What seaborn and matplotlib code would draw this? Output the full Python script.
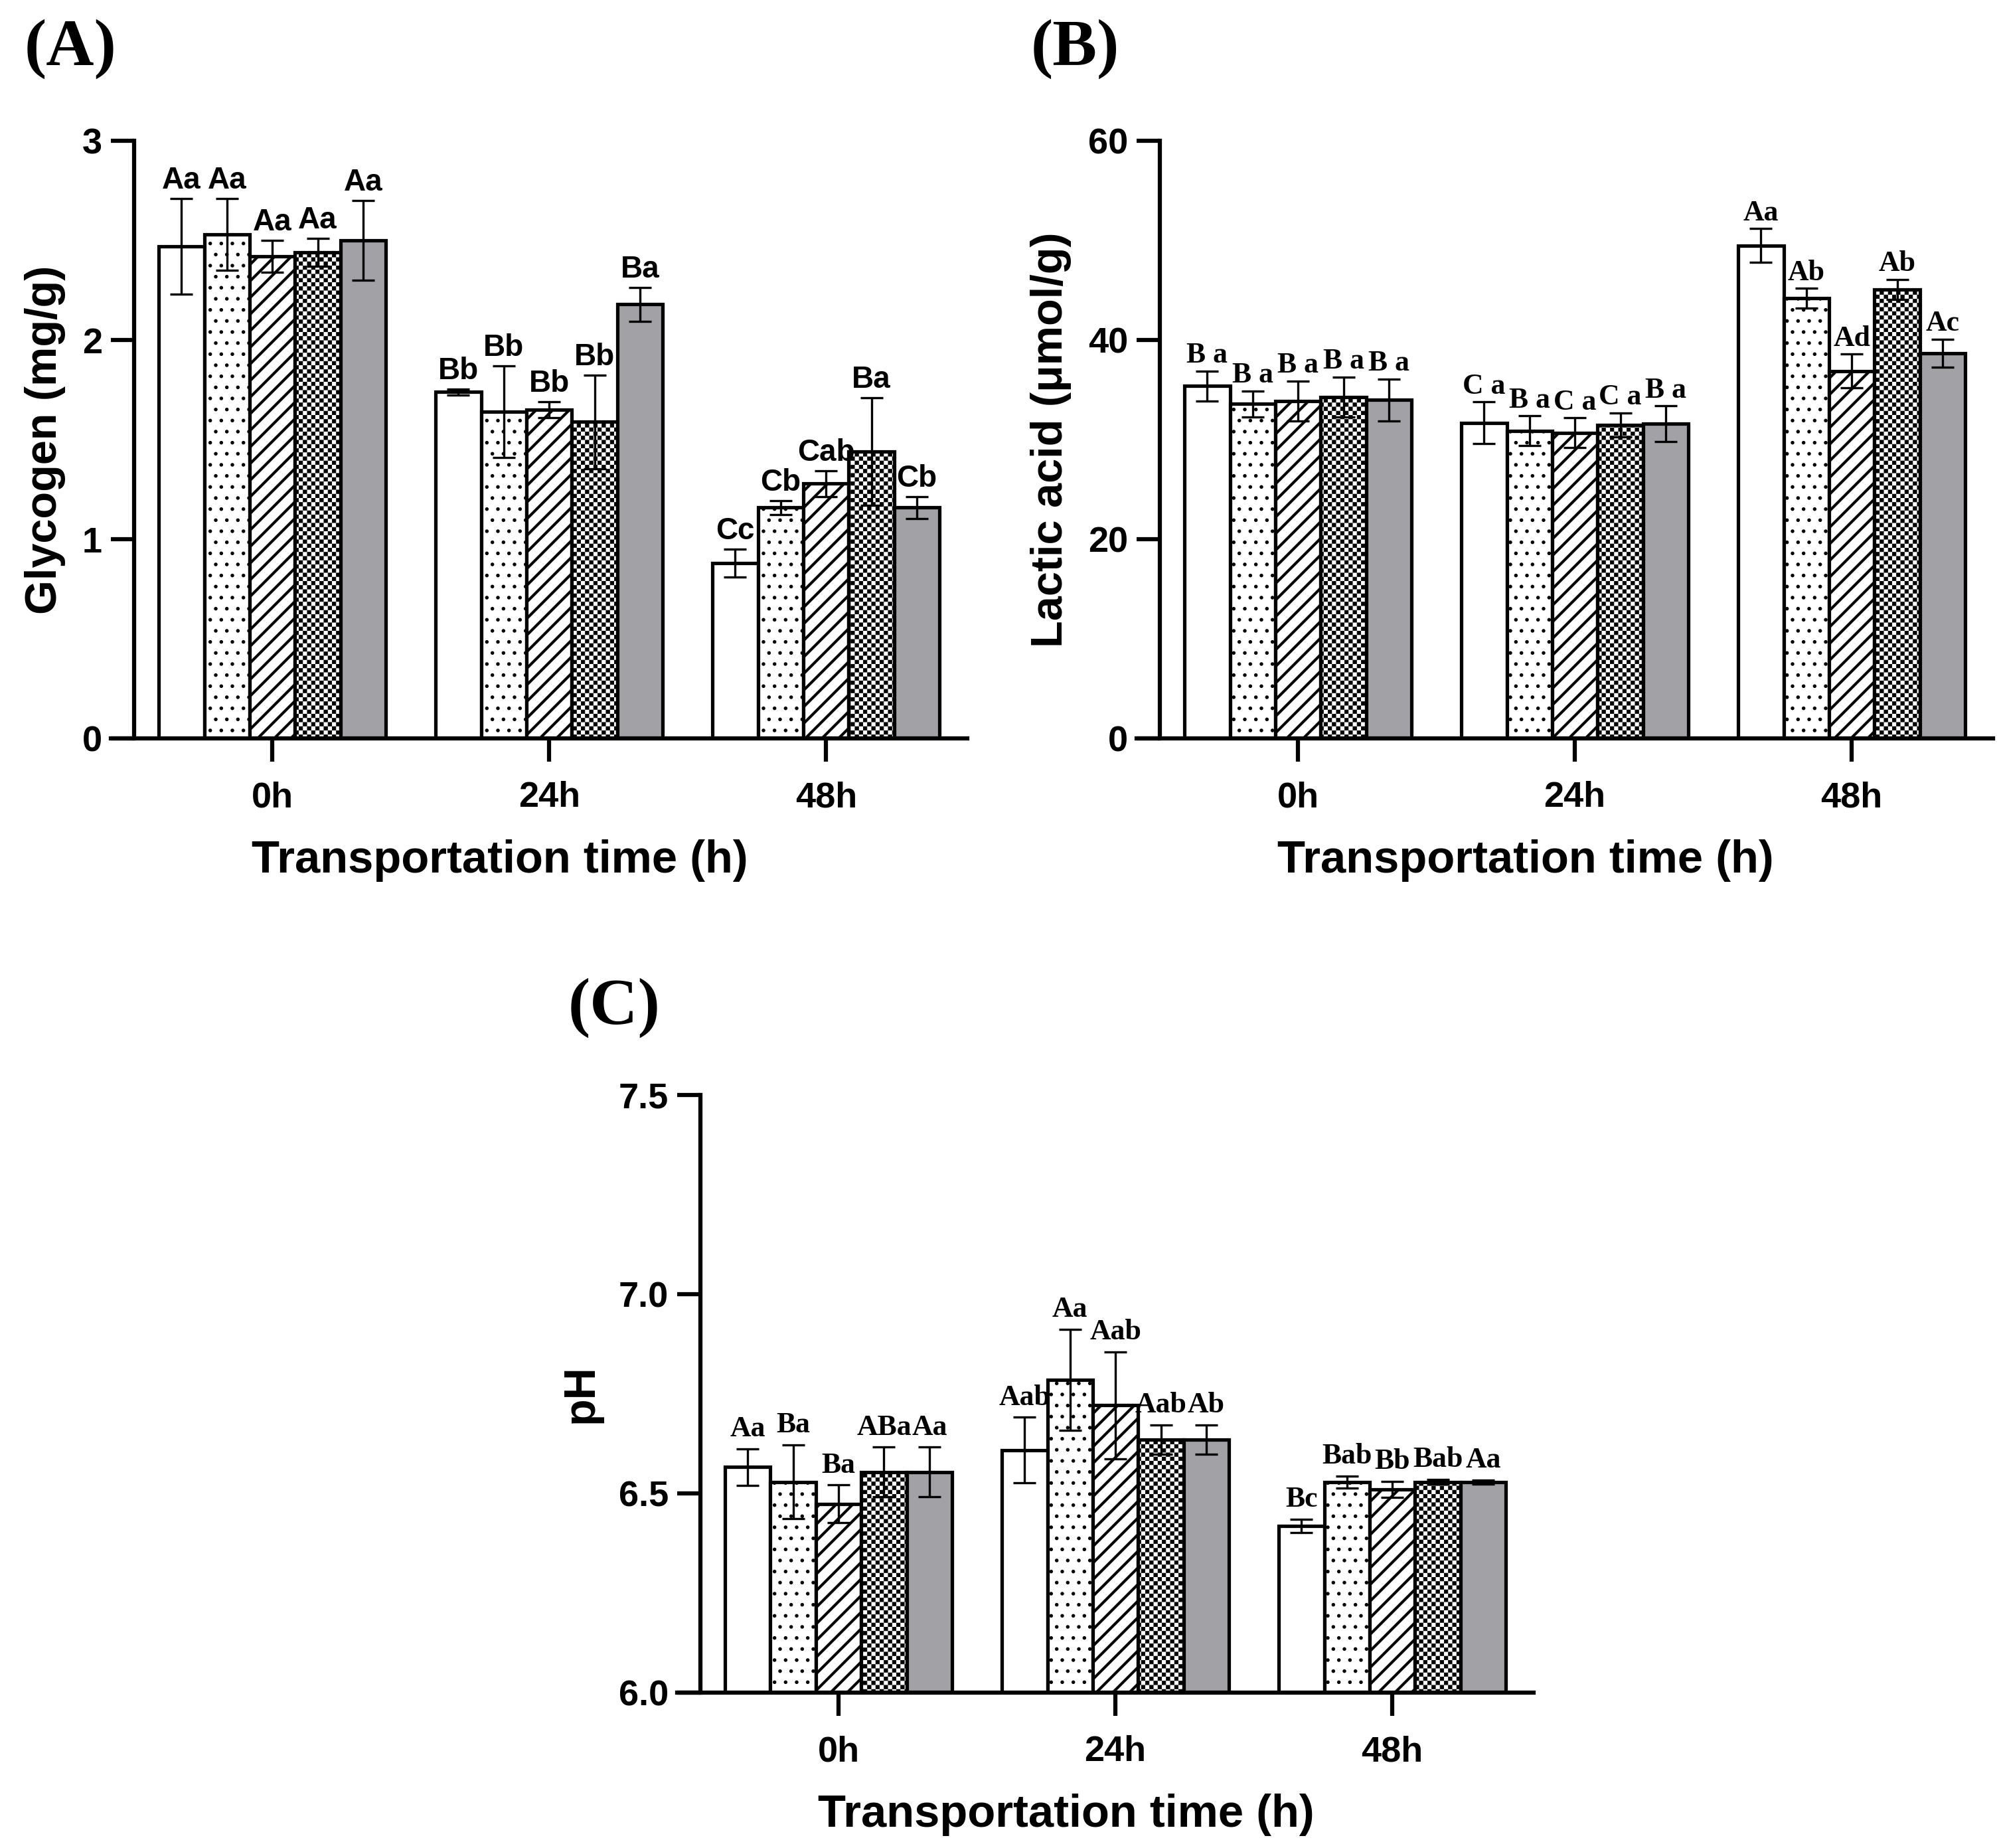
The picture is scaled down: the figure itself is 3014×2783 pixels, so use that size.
import numpy as np
import pandas as pd
import matplotlib
matplotlib.use('Agg')
import matplotlib.pyplot as plt
import matplotlib.hatch as mhatch
import matplotlib.patches as mpatches
from matplotlib.path import Path
import seaborn as sns

times = ['0h', '24h', '48h']
groups = ['T1', 'T2', 'T3', 'T4', 'T5']

# rows = transportation time, columns = treatment group
glycogen_mean = [[2.47, 2.53, 2.42, 2.44, 2.50],
                 [1.74, 1.64, 1.65, 1.59, 2.18],
                 [0.88, 1.16, 1.28, 1.44, 1.16]]
glycogen_sd = [[0.24, 0.18, 0.08, 0.07, 0.20],
               [0.015, 0.23, 0.04, 0.235, 0.085],
               [0.07, 0.035, 0.065, 0.27, 0.055]]
glycogen_letters = [['Aa', 'Aa', 'Aa', 'Aa', 'Aa'],
                    ['Bb', 'Bb', 'Bb', 'Bb', 'Ba'],
                    ['Cc', 'Cb', 'Cab', 'Ba', 'Cb']]

lactic_mean = [[35.4, 33.6, 33.9, 34.3, 34.0],
               [31.7, 30.9, 30.7, 31.5, 31.6],
               [49.5, 44.2, 36.9, 45.1, 38.7]]
lactic_sd = [[1.5, 1.3, 2.0, 2.0, 2.1],
             [2.1, 1.5, 1.5, 1.2, 1.8],
             [1.7, 1.0, 1.7, 1.0, 1.4]]
lactic_letters = [['B a', 'B a', 'B a', 'B a', 'B a'],
                  ['C a', 'B a', 'C a', 'C a', 'B a'],
                  ['Aa', 'Ab', 'Ad', 'Ab', 'Ac']]

ph_mean = [[6.566, 6.529, 6.474, 6.554, 6.554],
           [6.609, 6.785, 6.721, 6.635, 6.635],
           [6.418, 6.529, 6.510, 6.529, 6.529]]
ph_sd = [[0.046, 0.093, 0.047, 0.062, 0.062],
         [0.082, 0.127, 0.134, 0.037, 0.037],
         [0.017, 0.015, 0.020, 0.006, 0.005]]
ph_letters = [['Aa', 'Ba', 'Ba', 'ABa', 'Aa'],
              ['Aab', 'Aa', 'Aab', 'Aab', 'Ab'],
              ['Bc', 'Bab', 'Bb', 'Bab', 'Aa']]

fill_colors = ['white', 'white', 'white', 'white', '#a2a1a6']
hatches = ['', '...', '////', 'OOOO', '']
hatch_lws = [0.5, 0.5, 1.0, 0.2, 0.5]

sns.set_style('ticks')
plt.rcParams['font.family'] = ['Liberation Sans', 'DejaVu Sans']
plt.rcParams['font.weight'] = 'bold'
plt.rcParams['axes.labelweight'] = 'bold'
plt.rcParams['text.color'] = 'black'
plt.rcParams['axes.labelcolor'] = 'black'
plt.rcParams['xtick.color'] = 'black'
plt.rcParams['ytick.color'] = 'black'
plt.rcParams['hatch.linewidth'] = 0.9

per_artist_lw = hasattr(mpatches.Patch, 'set_hatch_linewidth')
check_lw = hatch_lws[3] if per_artist_lw else plt.rcParams['hatch.linewidth']


# checkerboard fill for the 4th group ('O' is re-used as its hatch code)
class CheckerHatch(mhatch.HatchPatternBase):
    def __init__(self, hatch, density):
        self.num_cells = hatch.count('O') * density
        self.num_vertices = 10 * self.num_cells ** 2

    def set_vertices_and_codes(self, vertices, codes):
        n = 2 * self.num_cells
        side = 1.0 / n
        inset = check_lw / 72 / 2
        k = 0
        for i in range(n):
            for j in range(n):
                if (i + j) % 2:
                    continue
                x0, y0 = i * side + inset, j * side + inset
                x1, y1 = (i + 1) * side - inset, (j + 1) * side - inset
                vertices[k:k + 5] = [(x0, y0), (x1, y0), (x1, y1), (x0, y1), (x0, y0)]
                codes[k:k + 5] = [Path.MOVETO, Path.LINETO, Path.LINETO,
                                  Path.LINETO, Path.CLOSEPOLY]
                k += 5


mhatch._hatch_types[:] = [h for h in mhatch._hatch_types
                          if h is not mhatch.LargeCircles] + [CheckerHatch]


def draw_panel(ax, mean, sd, letters, ylim, yticks, ylabel,
               letter_family, letter_size, letter_pad):
    df = pd.DataFrame({
        'time': np.repeat(times, len(groups)),
        'group': groups * len(times),
        'value': np.ravel(mean),
    })
    sns.barplot(data=df, x='time', y='value', hue='group', order=times,
                hue_order=groups, palette=fill_colors, saturation=1,
                errorbar=None, width=0.82, gap=0, edgecolor='black',
                linewidth=1.25, legend=False, ax=ax)

    bar_conts = list(ax.containers)
    for i, cont in enumerate(bar_conts):
        for bar in cont:
            bar.set_hatch(hatches[i])
            if per_artist_lw:
                bar.set_hatch_linewidth(hatch_lws[i])
            x = bar.get_x() + bar.get_width() / 2
            j = int(round(x))
            m, s = mean[j][i], sd[j][i]
            ax.errorbar(x, m, yerr=s, fmt='none', ecolor='black',
                        elinewidth=0.8, capsize=4, capthick=0.8, zorder=3)
            ax.annotate(letters[j][i], (x, m + s), xytext=(0, letter_pad),
                        textcoords='offset points', ha='center', va='baseline',
                        fontsize=letter_size, fontweight='bold',
                        family=letter_family, color='black')

    ax.set_xlim(-0.583, 2.51)
    ax.set_ylim(*ylim)
    ax.set_yticks(yticks)
    ax.spines['top'].set_visible(False)
    ax.spines['right'].set_visible(False)
    ax.spines['left'].set_position(('data', -0.5))
    for side in ['left', 'bottom']:
        ax.spines[side].set_linewidth(1.5)
        ax.spines[side].set_color('black')
    ax.tick_params(axis='both', direction='out', length=8.4, width=1.5,
                   labelsize=13, colors='black')
    ax.tick_params(axis='y', pad=3)
    ax.tick_params(axis='x', pad=7)
    ax.set_xlabel('Transportation time (h)', fontsize=16.5, labelpad=9)
    ax.xaxis.label.set_x(0.454)
    ax.set_ylabel(ylabel, fontsize=16, labelpad=6)


fig = plt.figure(figsize=(3014 / 300, 2783 / 300), dpi=300)

ax_a = fig.add_axes([0.0554, 0.6004, 0.4280, 0.3234])
ax_b = fig.add_axes([0.5680, 0.6004, 0.4280, 0.3234])
ax_c = fig.add_axes([0.3384, 0.0841, 0.4280, 0.3234])

draw_panel(ax_a, glycogen_mean, glycogen_sd, glycogen_letters,
           (0, 3), [0, 1, 2, 3], 'Glycogen (mg/g)',
           ['Liberation Sans', 'DejaVu Sans'], 11, 3.5)
draw_panel(ax_b, lactic_mean, lactic_sd, lactic_letters,
           (0, 60), [0, 20, 40, 60], 'Lactic acid (μmol/g)',
           ['Liberation Serif', 'DejaVu Serif'], 10.5, 3)
draw_panel(ax_c, ph_mean, ph_sd, ph_letters,
           (6.0, 7.5), [6.0, 6.5, 7.0, 7.5], 'pH',
           ['Liberation Serif', 'DejaVu Serif'], 10.5, 4.5)

for label, x, y in [('(A)', 0.0123, 0.9734), ('(B)', 0.515, 0.9734),
                    ('(C)', 0.284, 0.4546)]:
    fig.text(x, y, label, fontsize=24, fontweight='bold',
             family=['Liberation Serif', 'DejaVu Serif'],
             ha='left', va='center', color='black')

fig.savefig('out.png', dpi=300)
